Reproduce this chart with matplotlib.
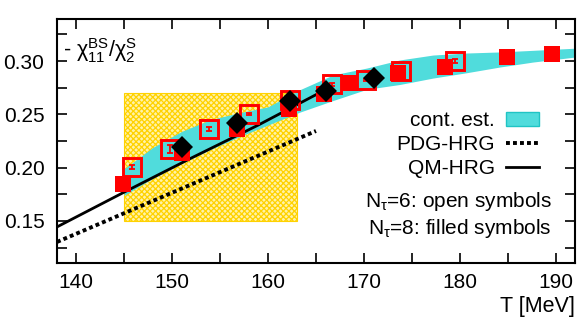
import matplotlib
matplotlib.use('Agg')
import matplotlib.pyplot as plt
from matplotlib.patches import Rectangle, Patch
from matplotlib.lines import Line2D
from matplotlib.ticker import MultipleLocator, FormatStrFormatter

plt.rcParams['font.family'] = ['Liberation Sans', 'DejaVu Sans']
plt.rcParams['hatch.linewidth'] = 0.9

# continuum estimate band
band_T = [145, 148, 151, 154, 157, 160, 163.3, 166.8, 170.3, 173.75, 177.2, 180.7, 184.2, 187.6, 192]
band_lo = [0.174, 0.190, 0.204, 0.217, 0.229, 0.240, 0.252, 0.263, 0.2735, 0.278, 0.284, 0.289, 0.2944, 0.299, 0.3037]
band_hi = [0.199, 0.219, 0.234, 0.245, 0.2515, 0.257, 0.273, 0.287, 0.2934, 0.301, 0.3056, 0.3075, 0.3085, 0.310, 0.312]

# HRG curves
qm_T = [138, 145, 152, 159, 166.5]
qm_y = [0.1444, 0.1770, 0.2090, 0.2400, 0.2755]
pdg_T = [138, 151.5, 165]
pdg_y = [0.1303, 0.1823, 0.2344]

# Ntau=6 (open)
n6_T = [145.8, 149.8, 153.8, 158.0, 162.3, 166.7, 170.2, 173.9, 179.5]
n6_y = [0.2006, 0.2175, 0.236, 0.250, 0.2634, 0.278, 0.282, 0.2906, 0.300]
n6_err = [0.0015, 0.0035, 0.002, 0.001, 0.001, 0.001, 0.001, 0.001, 0.0015]

# Ntau=8 (filled)
n8_T = [144.9, 151.0, 156.8, 162.2, 165.8, 168.5, 173.5, 178.4, 184.9, 189.6]
n8_y = [0.1847, 0.2137, 0.236, 0.255, 0.269, 0.279, 0.2887, 0.294, 0.3037, 0.3066]

# diamonds
dia_T = [151.0, 156.8, 162.3, 166.0, 171.0]
dia_y = [0.219, 0.2419, 0.2625, 0.272, 0.284]

# yellow box
box_T = [145, 163]
box_y = [0.15, 0.27]

cyan = '#50dcdc'
red = '#ff0000'

fig = plt.figure(figsize=(5.82, 3.23), dpi=100)
ax = fig.add_axes([0.0979, 0.1858, 0.890, 0.7554])

ax.add_patch(Rectangle((box_T[0], box_y[0]), box_T[1] - box_T[0], box_y[1] - box_y[0],
                       facecolor='#fff2a8', edgecolor='#ffd200', hatch='xxxxxx', lw=0.8, zorder=1))
ax.fill_between(band_T, band_lo, band_hi, color=cyan, lw=0, zorder=2)
ax.plot(pdg_T, pdg_y, color='black', lw=2.8, ls=(0, (1, 0.8)), zorder=3)
ax.plot(qm_T, qm_y, color='black', lw=2.0, zorder=3)

ax.errorbar(n6_T, n6_y, yerr=n6_err, fmt='none', ecolor=red, elinewidth=1.3, capsize=2, capthick=1.3, zorder=4)
ax.plot(n6_T, n6_y, 's', ms=12.3, mfc='none', mec=red, mew=2.1, zorder=4)
ax.plot(n8_T, n8_y, 's', ms=11.3, mfc=red, mec=red, mew=0, zorder=5)
ax.plot(dia_T, dia_y, 'D', ms=10.8, mfc='black', mec='black', mew=0, zorder=6)

ax.set_xlim(138, 192)
ax.set_ylim(0.1106, 0.3394)
ax.xaxis.set_major_locator(MultipleLocator(10))
ax.xaxis.set_minor_locator(MultipleLocator(5))
ax.yaxis.set_major_locator(MultipleLocator(0.05))
ax.yaxis.set_minor_locator(MultipleLocator(0.025))
ax.yaxis.set_major_formatter(FormatStrFormatter('%.2f'))
ax.tick_params(which='both', direction='in', top=True, right=True, length=7, width=1.2, labelsize=15)
ax.tick_params(axis='x', pad=7)
ax.tick_params(axis='y', pad=9)
for s in ax.spines.values():
    s.set_linewidth(1.5)

ax.text(0.012, 0.87, r'- $\mathregular{χ^{BS}_{11}/χ^{S}_{2}}$', transform=ax.transAxes,
        ha='left', va='center', fontsize=15.5)
ax.text(1.0, -0.178, 'T [MeV]', transform=ax.transAxes, ha='right', va='center', fontsize=15.5)

handles = [Patch(facecolor=cyan, edgecolor='#20c4c4', lw=1),
           Line2D([], [], color='black', lw=2.8, ls=(0, (1, 0.8))),
           Line2D([], [], color='black', lw=2.0)]
ax.legend(handles, ['cont. est.', 'PDG-HRG', 'QM-HRG'], loc='upper right',
          bbox_to_anchor=(0.930, 0.622), frameon=False, markerfirst=False,
          borderpad=0, borderaxespad=0, handlelength=1.55, handletextpad=0.55,
          labelspacing=0.24, fontsize=15)

ax.text(0.9556, 0.25, r'N$_\mathregular{τ}$=6: open symbols', transform=ax.transAxes,
        ha='right', va='center', fontsize=15)
ax.text(0.9556, 0.143, r'N$_\mathregular{τ}$=8: filled symbols', transform=ax.transAxes,
        ha='right', va='center', fontsize=15)

fig.savefig('out.png', dpi=100)
